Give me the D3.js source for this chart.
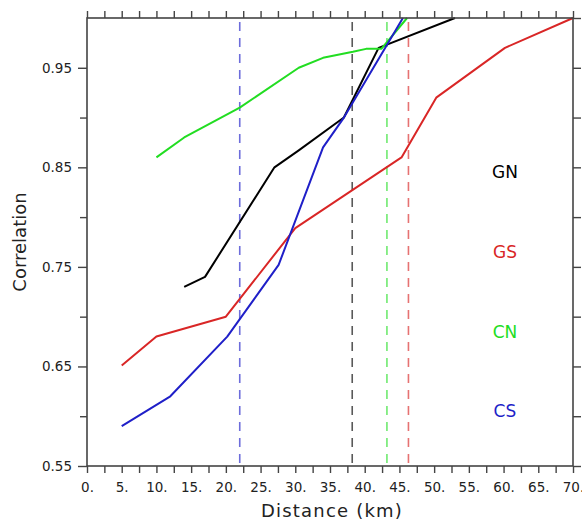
<!DOCTYPE html>
<html>
<head>
<meta charset="UTF-8">
<title>Correlation vs Distance</title>
<script src="https://d3js.org/d3.v7.min.js"></script>
<style>
    body { margin: 0; background: #fff; }
    svg { display: block; font-family: "DejaVu Sans", sans-serif; }
</style>
</head>
<body>
<svg width="582" height="523"></svg>
<script>
// series: distance (km) and correlation
const gnDist = [14, 17, 27, 30.5, 37, 42, 53];
const gnCorr = [0.73, 0.74, 0.85, 0.867, 0.90, 0.97, 1.0];
const gsDist = [5, 10, 20, 30, 45.3, 50.3, 60.2, 70];
const gsCorr = [0.651, 0.68, 0.70, 0.789, 0.86, 0.92, 0.97, 1.0];
const cnDist = [10, 14, 22, 30.5, 34, 38.3, 40.2, 42.4, 46.1];
const cnCorr = [0.86, 0.88, 0.91, 0.95, 0.96, 0.966, 0.969, 0.969, 1.0];
const csDist = [5, 12, 20.2, 27.6, 34, 37, 45.5];
const csCorr = [0.59, 0.62, 0.68, 0.752, 0.87, 0.90, 1.0];

// dashed reference distances
const names = ["GN", "GS", "CN", "CS"];
const cutoffs = [38.2, 46.3, 43.2, 22];
const colors = ["#000000", "#d92626", "#22dd22", "#1f1fc8"];

const xTickLabels = [0, 5, 10, 15, 20, 25, 30, 35, 40, 45, 50, 55, 60, 65, 70];
const yTickLabels = [0.55, 0.65, 0.75, 0.85, 0.95];

const series = [
    {name: "GN", dist: gnDist, corr: gnCorr},
    {name: "GS", dist: gsDist, corr: gsCorr},
    {name: "CN", dist: cnDist, corr: cnCorr},
    {name: "CS", dist: csDist, corr: csCorr}
];

const svg = d3.select("svg");
const mLeft = 87, mRight = 573, mTop = 18, mBottom = 466;
const axisColor = "#444";

const x = d3.scaleLinear().domain([0, 70]).range([mLeft, mRight]);
const y = d3.scaleLinear().domain([0.55, 1.0]).range([mBottom, mTop]);

// dashed verticals
names.forEach((n, i) => {
    svg.append("line")
        .attr("x1", x(cutoffs[i])).attr("x2", x(cutoffs[i]))
        .attr("y1", y(1.0)).attr("y2", y(0.55))
        .attr("stroke", colors[i])
        .attr("stroke-opacity", 0.65)
        .attr("stroke-width", 1.6)
        .attr("stroke-dasharray", "9,7")
        .attr("stroke-dashoffset", -4);
});

// lines
const line = d3.line().x(d => x(d[0])).y(d => y(d[1]));
series.forEach((s, i) => {
    svg.append("path")
        .datum(s.dist.map((d, k) => [d, s.corr[k]]))
        .attr("d", line)
        .attr("fill", "none")
        .attr("stroke", colors[i])
        .attr("stroke-width", 2)
        .attr("stroke-linejoin", "round");
});

// frame
svg.append("rect")
    .attr("x", mLeft).attr("y", mTop)
    .attr("width", mRight - mLeft).attr("height", mBottom - mTop)
    .attr("fill", "none").attr("stroke", axisColor).attr("stroke-width", 1.6);

// x axes (bottom and top), ticks every 2.5
const xTicks = d3.range(0, 70.01, 2.5);
const bottomAxis = svg.append("g")
    .attr("transform", `translate(0,${mBottom})`)
    .call(d3.axisBottom(x).tickValues(xTicks).tickSize(7).tickPadding(9)
        .tickFormat(d => xTickLabels.includes(d) ? d + "." : ""));
const topAxis = svg.append("g")
    .attr("transform", `translate(0,${mTop})`)
    .call(d3.axisTop(x).tickValues(xTicks).tickSize(7).tickFormat(""));

// y axes (left and right), ticks every 0.05
const yTicks = d3.range(0.55, 1.001, 0.05).map(v => +v.toFixed(2));
const leftAxis = svg.append("g")
    .attr("transform", `translate(${mLeft},0)`)
    .call(d3.axisLeft(y).tickValues(yTicks).tickSize(8).tickPadding(7)
        .tickFormat(d => yTickLabels.includes(d) ? d.toFixed(2) : ""));
const rightAxis = svg.append("g")
    .attr("transform", `translate(${mRight},0)`)
    .call(d3.axisRight(y).tickValues(yTicks).tickSize(8).tickFormat(""));

[bottomAxis, topAxis, leftAxis, rightAxis].forEach(a => {
    a.select(".domain").remove();
    a.selectAll(".tick line").attr("stroke", axisColor).attr("stroke-width", 1.4);
    a.selectAll(".tick text")
        .attr("fill", "#222")
        .attr("font-size", 13.5)
        .attr("font-family", "'DejaVu Sans', sans-serif");
});
leftAxis.selectAll(".tick line").attr("x2", d => yTickLabels.includes(d) ? -9 : -7);
leftAxis.selectAll(".tick").filter(d => d === 1.0).remove();

// series labels
const labelY = [0.845, 0.765, 0.685, 0.605];
names.forEach((n, i) => {
    svg.append("text")
        .attr("x", x(60.2)).attr("y", y(labelY[i]))
        .attr("text-anchor", "middle")
        .attr("dominant-baseline", "central")
        .attr("font-size", 17)
        .attr("fill", colors[i])
        .text(n);
});

// axis titles
svg.append("text")
    .attr("x", 332).attr("y", 517)
    .attr("text-anchor", "middle")
    .attr("font-size", 18)
    .attr("fill", "#222")
    .attr("letter-spacing", 1.2)
    .text("Distance (km)");

svg.append("text")
    .attr("transform", `translate(26,242) rotate(-90)`)
    .attr("text-anchor", "middle")
    .attr("font-size", 18)
    .attr("fill", "#222")
    .text("Correlation");
</script>
</body>
</html>
